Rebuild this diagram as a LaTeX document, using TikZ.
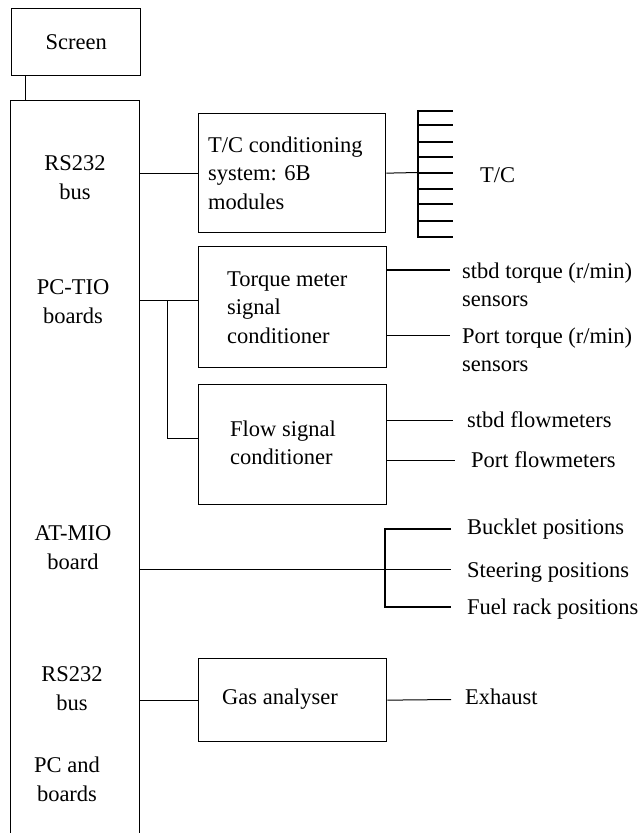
\documentclass[tikz,border=0pt]{standalone}
\usepackage{fontspec}
\setmainfont{Liberation Serif}
\begin{document}
\begin{tikzpicture}[x=1pt,y=-1pt,
  box/.style={draw, line width=1.3pt, inner sep=0pt, anchor=north west},
  wire/.style={line width=1pt},
  comb/.style={line width=1.4pt},
  txt/.style={font=\fontsize{22.5}{28.5}\selectfont, inner sep=0pt},
  ltxt/.style={txt, align=left, anchor=base west},
  ctxt/.style={txt, align=center, anchor=base}]
\useasboundingbox (0,0) rectangle (643,833);

% PC enclosure runs off the lower edge
\begin{scope}
  \clip (0,0) rectangle (643,833);
  \node[box, minimum width=129pt, minimum height=780pt] (main) at (10,100) {};
\end{scope}

% blocks
\node[box, minimum width=129pt, minimum height=67pt] (screen) at (11,8) {};
\node[txt] at (screen.center) {Screen};
\node[box, minimum width=187pt, minimum height=119pt] (tc) at (198,113) {};
\node[box, minimum width=188pt, minimum height=121pt] (torque) at (198,246) {};
\node[box, minimum width=188pt, minimum height=120pt] (flow) at (198,384) {};
\node[box, minimum width=188pt, minimum height=83pt] (gas) at (198,658) {};

% texts in the blocks (base anchor = baseline of the last line)
\node[ltxt] (tctxt) at (208,209) {T/C conditioning\\system: 6B\\modules};
\node[ltxt] (torquetxt) at (227,343) {Torque meter\\signal\\conditioner};
\node[ltxt] (flowtxt) at (230,464.5) {Flow signal\\conditioner};
\node[ltxt] (gastxt) at (222,704) {Gas analyser};

% labels on the PC enclosure
\node[ctxt] (bus1) at (75,199) {RS232\\bus};
\node[ctxt] (tio) at (73,323) {PC-TIO\\boards};
\node[ctxt] (mio) at (73,569) {AT-MIO\\board};
\node[ctxt] (bus2) at (72,710) {RS232\\bus};
\node[ctxt] (pc) at (67,801) {PC and\\boards};

% screen link
\draw[wire] ([xshift=14pt]screen.south west) -- ([xshift=15pt]main.north west);

% thermocouple branch
\coordinate (spine) at (418,172.5);
\draw[wire] (main.east |- tc.west) -- (tc.west);
\draw[wire] (tc.east) -- (spine);
\draw[comb] (418,110.5) -- (418,237.5);
\foreach \ty in {111,125,142,157,173,189,204,221,237}
  \draw[comb] (417.3,\ty) -- (453,\ty);
\node[ltxt] (tclbl) at (480,182) {T/C};

% torque and flow branch
\coordinate (j1) at (167,300);
\coordinate (j2) at (167,438);
\draw[wire] (main.east |- j1) -- (torque.west |- j1);
\draw[wire] (j1) -- (j2) -- (flow.west |- j2);
\coordinate (t1) at (450,270);
\coordinate (t2) at (450,335);
\coordinate (f1) at (453,420);
\coordinate (f2) at (455,460);
\draw[comb] (torque.east |- t1) -- (t1);
\draw[wire] (torque.east |- t2) -- (t2);
\draw[wire] (flow.east |- f1) -- (f1);
\draw[wire] (flow.east |- f2) -- (f2);
\node[ltxt] (stbdtq) at (462,306.5) {stbd torque (r/min)\\sensors};
\node[ltxt] (porttq) at (462,371.5) {Port torque (r/min)\\sensors};
\node[ltxt] (stbdfl) at (467,427) {stbd flowmeters};
\node[ltxt] (portfl) at (471,467) {Port flowmeters};

% position sensors
\coordinate (p0) at (385,569);
\coordinate (p1) at (451,529);
\coordinate (p2) at (451,569);
\coordinate (p3) at (451,607);
\draw[wire] (main.east |- p0) -- (p0);
\draw[comb] (p1) -| (p0) |- (p3);
\draw[wire] (p0) -- (p2);
\node[ltxt] (buck) at (467,534) {Bucklet positions};
\node[ltxt] (steer) at (467,577) {Steering positions};
\node[ltxt] (fuel) at (467,614) {Fuel rack positions};

% gas analyser
\coordinate (ex) at (451,699.5);
\draw[wire] (main.east |- gas.west) -- (gas.west);
\draw[wire] (gas.east) -- (ex);
\node[ltxt] (exh) at (465,704) {Exhaust};
\end{tikzpicture}
\end{document}
